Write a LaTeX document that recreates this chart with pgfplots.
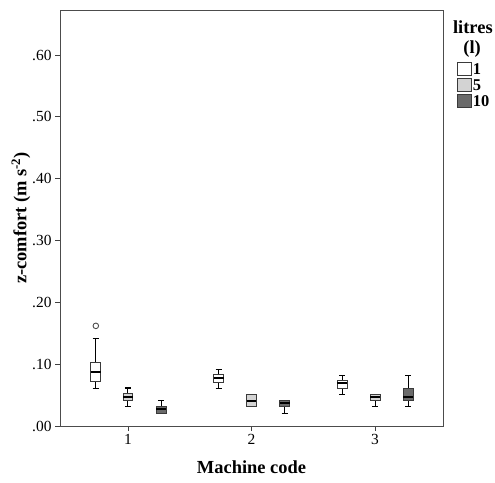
\documentclass[border=0pt]{standalone}
\usepackage{pgfplots}
\pgfplotsset{compat=1.18}
\usepackage{fontspec}
\setmainfont{Liberation Serif}
\definecolor{lgrey}{HTML}{D3D3D3}
\definecolor{dgrey}{HTML}{6A6A6A}
\definecolor{edge}{HTML}{3A3A3A}
% #1 position, #2 lower whisker, #3 lower quartile, #4 median, #5 upper quartile, #6 upper whisker, #7 fill
\newcommand\boxp[7]{%
  \pgfmathsetmacro\bxL{#1-0.04}\pgfmathsetmacro\bxR{#1+0.04}%
  \pgfmathsetmacro\cpL{#1-0.025}\pgfmathsetmacro\cpR{#1+0.025}%
  \pgfmathtruncatemacro\haslow{(#3-#2)>0.001}%
  \pgfmathtruncatemacro\hashigh{(#6-#5)>0.001}%
  \ifnum\haslow=1
    \addplot[black, line width=1bp] coordinates {(#1,#2) (#1,#3)};
    \addplot[black, line width=1.1bp] coordinates {(\cpL,#2) (\cpR,#2)};
  \fi
  \ifnum\hashigh=1
    \addplot[black, line width=1bp] coordinates {(#1,#5) (#1,#6)};
    \addplot[black, line width=1.1bp] coordinates {(\cpL,#6) (\cpR,#6)};
  \fi
  \addplot[draw=edge, fill=#7, line width=0.9bp] coordinates {(\bxL,#3) (\bxR,#3) (\bxR,#5) (\bxL,#5)} -- cycle;
  \addplot[black, line width=1.7bp] coordinates {(\bxL,#4) (\bxR,#4)};
}
\begin{document}
\begin{tikzpicture}
\useasboundingbox (0bp,0bp) rectangle (495bp,483bp);
\begin{axis}[
  at={(60bp,57bp)}, anchor=south west,
  scale only axis, width=383bp, height=416bp,
  xmin=0.45, xmax=3.55, ymin=0, ymax=0.673,
  xtick={1,2,3}, xticklabels={1,2,3},
  ytick={0,0.1,0.2,0.3,0.4,0.5,0.6},
  yticklabels={.00,.10,.20,.30,.40,.50,.60},
  xtick pos=bottom, ytick pos=left,
  tick align=outside, major tick length=5bp,
  tick style={draw=black!75, line width=0.9bp},
  axis line style={draw=black!70, line width=0.9bp},
  ticklabel style={font=\fontsize{15.5}{18}\selectfont},
  xlabel={\textbf{Machine code}},
  ylabel={\textbf{z-comfort (m s\textsuperscript{-2})}},
  label style={font=\fontsize{18.5}{21}\selectfont},
  xlabel style={yshift=-9bp},
  ylabel style={yshift=-5bp},
  legend image code/.code={\draw[#1] (0bp,-6.5bp) rectangle (14bp,6.5bp);},
  legend style={draw=none, fill=none, at={(axis description cs:1.036,0.876)}, anchor=north west,
    inner sep=0pt, row sep=1bp, column sep=0pt, font=\fontsize{16.5}{18}\selectfont\bfseries,
    nodes={inner sep=1bp, text height=12bp, text depth=1bp}},
  legend cell align=left,
  legend entries={1,5,10},
  clip=false,
]
\addlegendimage{draw=edge, fill=white, line width=0.9bp}
\addlegendimage{draw=edge, fill=lgrey, line width=0.9bp}
\addlegendimage{draw=edge, fill=dgrey, line width=0.9bp}
% Machine 1
\boxp{0.74}{0.061}{0.072}{0.087}{0.102}{0.141}{white}
\addplot[only marks, mark=o, mark size=2.8bp, mark options={draw=black!70, line width=0.9bp}] coordinates {(0.74,0.162)};
\boxp{1.0}{0.031}{0.042}{0.047}{0.052}{0.0615}{lgrey}
\boxp{1.268}{0.0205}{0.0205}{0.027}{0.031}{0.0415}{dgrey}
% Machine 2
\boxp{1.735}{0.061}{0.071}{0.078}{0.084}{0.091}{white}
\boxp{2.0}{0.031}{0.031}{0.041}{0.051}{0.051}{lgrey}
\boxp{2.268}{0.0205}{0.031}{0.0367}{0.0415}{0.0415}{dgrey}
% Machine 3
\boxp{2.735}{0.051}{0.0615}{0.069}{0.073}{0.082}{white}
\boxp{3.0}{0.031}{0.041}{0.047}{0.051}{0.051}{lgrey}
\boxp{3.268}{0.031}{0.041}{0.047}{0.0615}{0.082}{dgrey}
\node[font=\fontsize{18.5}{21}\selectfont\bfseries] at (axis description cs:1.078,0.959) {litres};
\node[font=\fontsize{18.5}{21}\selectfont\bfseries] at (axis description cs:1.076,0.907) {(l)};
\end{axis}
\end{tikzpicture}
\end{document}
